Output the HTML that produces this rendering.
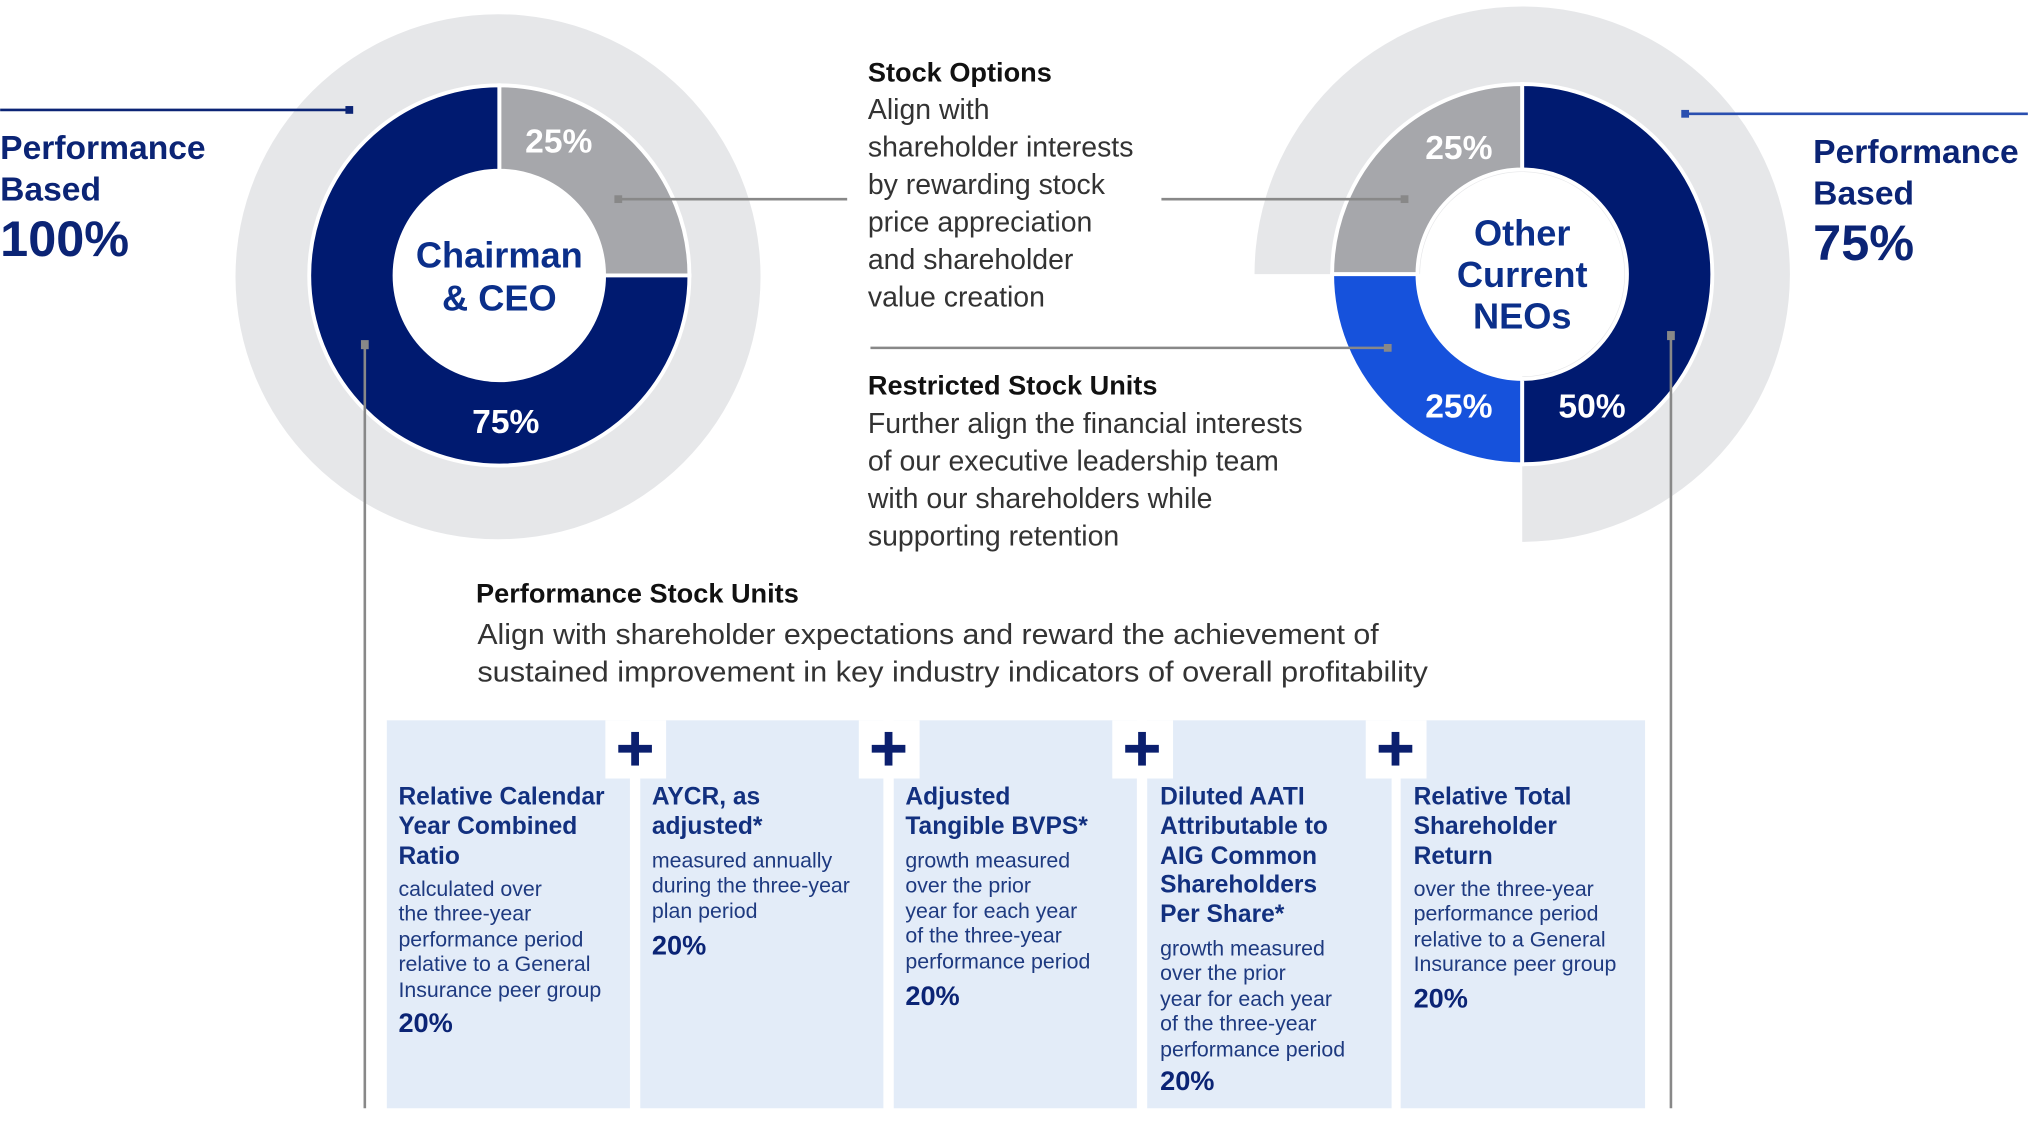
<!DOCTYPE html>
<html><head><meta charset="utf-8"><style>
html,body{margin:0;padding:0;background:#fff;}
svg{display:block;}
text{font-family:"Liberation Sans",sans-serif;}
.t{font-weight:bold;fill:#12307f;font-size:19px;}
.b{fill:#1e3a80;font-size:16.5px;}
.p{font-weight:bold;fill:#0b2475;font-size:21px;}
.d{fill:#333;font-size:22px;}
.h{font-weight:bold;fill:#111;font-size:21px;}
</style></head><body>
<svg width="2028" height="1138" viewBox="0 0 1568 880" xmlns="http://www.w3.org/2000/svg">
<circle cx="385" cy="214" r="203" fill="#e6e7e9"/>
<path d="M1177,212 L970,212 A207,207 0 1 1 1177,419 Z" fill="#e6e7e9"/>
<g stroke="#fff" stroke-width="3">
<path d="M386,66 A147,147 0 0 1 533,213 L467,213 A81,81 0 0 0 386,132 Z" fill="#a6a7ab"/>
<path d="M533,213 A147,147 0 1 1 386,66 L386,132 A81,81 0 1 0 467,213 Z" fill="#001a70"/>
<path d="M1030,212 A147,147 0 0 1 1177,65 L1177,131 A81,81 0 0 0 1096,212 Z" fill="#a6a7ab"/>
<path d="M1177,359 A147,147 0 0 1 1030,212 L1096,212 A81,81 0 0 0 1177,293 Z" fill="#1652dc"/>
<path d="M1177,65 A147,147 0 0 1 1177,359 L1177,293 A81,81 0 0 0 1177,131 Z" fill="#001a70"/>
</g>
<circle cx="386" cy="213" r="80" fill="#fff"/>
<circle cx="1177" cy="212" r="79" fill="#fff"/>
<g font-weight="bold" fill="#fff" font-size="26" text-anchor="middle">
<text x="432" y="118">25%</text>
<text x="391" y="335">75%</text>
<text x="1128" y="123">25%</text>
<text x="1128" y="323">25%</text>
<text x="1231" y="323">50%</text>
</g>
<g font-weight="bold" fill="#0b2f8a" font-size="28" text-anchor="middle">
<text x="386" y="207">Chairman</text>
<text x="386" y="240">&amp; CEO</text>
<text x="1177" y="190">Other</text>
<text x="1177" y="222">Current</text>
<text x="1177" y="254">NEOs</text>
</g>
<line x1="0" y1="85" x2="270" y2="85" stroke="#0b2475" stroke-width="2"/>
<rect x="267" y="82" width="6" height="6" fill="#0b2475"/>
<line x1="1303" y1="88" x2="1568" y2="88" stroke="#2a4fb0" stroke-width="2"/>
<rect x="1300" y="85" width="6" height="6" fill="#2a4fb0"/>
<g stroke="#888" stroke-width="2">
<line x1="478" y1="154" x2="655" y2="154"/>
<line x1="898" y1="154" x2="1086" y2="154"/>
<line x1="673" y1="269" x2="1073" y2="269"/>
<line x1="282" y1="266" x2="282" y2="857"/>
<line x1="1292" y1="259" x2="1292" y2="857"/>
</g>
<g fill="#888">
<rect x="475" y="151" width="6" height="6"/>
<rect x="1083" y="151" width="6" height="6"/>
<rect x="1070" y="266" width="6" height="6"/>
<rect x="279" y="263" width="6" height="7"/>
<rect x="1289" y="256" width="6" height="7"/>
</g>
<g font-weight="bold" fill="#0b2475">
<text x="0" y="123" font-size="26">Performance</text>
<text x="0" y="155" font-size="26">Based</text>
<text x="0" y="198" font-size="39">100%</text>
<text x="1402" y="126" font-size="26">Performance</text>
<text x="1402" y="158" font-size="26">Based</text>
<text x="1402" y="201" font-size="39">75%</text>
</g>
<text class="h" x="671" y="63">Stock Options</text>
<text class="d" x="671" y="92">Align with</text>
<text class="d" x="671" y="121">shareholder interests</text>
<text class="d" x="671" y="150">by rewarding stock</text>
<text class="d" x="671" y="179">price appreciation</text>
<text class="d" x="671" y="208">and shareholder</text>
<text class="d" x="671" y="237">value creation</text>
<text class="h" x="671" y="305">Restricted Stock Units</text>
<text class="d" x="671" y="335">Further align the financial interests</text>
<text class="d" x="671" y="364">of our executive leadership team</text>
<text class="d" x="671" y="393">with our shareholders while</text>
<text class="d" x="671" y="422">supporting retention</text>
<text class="h" x="368" y="466">Performance Stock Units</text>
<text class="d" x="369" y="498" textLength="697" lengthAdjust="spacingAndGlyphs">Align with shareholder expectations and reward the achievement of</text>
<text class="d" x="369" y="527" textLength="735" lengthAdjust="spacingAndGlyphs">sustained improvement in key industry indicators of overall profitability</text>
<g fill="#e3ecf8">
<rect x="299" y="557" width="188" height="300"/>
<rect x="495" y="557" width="188" height="300"/>
<rect x="691" y="557" width="188" height="300"/>
<rect x="887" y="557" width="189" height="300"/>
<rect x="1083" y="557" width="189" height="300"/>
</g>
<g fill="#fff">
<rect x="468" y="557" width="47" height="45"/>
<rect x="664" y="557" width="47" height="45"/>
<rect x="860" y="557" width="47" height="45"/>
<rect x="1056" y="557" width="47" height="45"/>
</g>
<g fill="#0b1f6e">
<rect x="478" y="576" width="26" height="6"/><rect x="488" y="566" width="6" height="26"/>
<rect x="674" y="576" width="26" height="6"/><rect x="684" y="566" width="6" height="26"/>
<rect x="870" y="576" width="26" height="6"/><rect x="880" y="566" width="6" height="26"/>
<rect x="1066" y="576" width="26" height="6"/><rect x="1076" y="566" width="6" height="26"/>
</g>
<text class="t" x="308" y="622">Relative Calendar</text>
<text class="t" x="308" y="645">Year Combined</text>
<text class="t" x="308" y="668">Ratio</text>
<text class="b" x="308" y="693">calculated over</text>
<text class="b" x="308" y="712">the three-year</text>
<text class="b" x="308" y="732">performance period</text>
<text class="b" x="308" y="751">relative to a General</text>
<text class="b" x="308" y="771">Insurance peer group</text>
<text class="p" x="308" y="798">20%</text>
<text class="t" x="504" y="622">AYCR, as</text>
<text class="t" x="504" y="645">adjusted*</text>
<text class="b" x="504" y="671">measured annually</text>
<text class="b" x="504" y="690">during the three-year</text>
<text class="b" x="504" y="710">plan period</text>
<text class="p" x="504" y="738">20%</text>
<text class="t" x="700" y="622">Adjusted</text>
<text class="t" x="700" y="645">Tangible BVPS*</text>
<text class="b" x="700" y="671">growth measured</text>
<text class="b" x="700" y="690">over the prior</text>
<text class="b" x="700" y="710">year for each year</text>
<text class="b" x="700" y="729">of the three-year</text>
<text class="b" x="700" y="749">performance period</text>
<text class="p" x="700" y="777">20%</text>
<text class="t" x="897" y="622">Diluted AATI</text>
<text class="t" x="897" y="645">Attributable to</text>
<text class="t" x="897" y="668">AIG Common</text>
<text class="t" x="897" y="690">Shareholders</text>
<text class="t" x="897" y="713">Per Share*</text>
<text class="b" x="897" y="739">growth measured</text>
<text class="b" x="897" y="758">over the prior</text>
<text class="b" x="897" y="778">year for each year</text>
<text class="b" x="897" y="797">of the three-year</text>
<text class="b" x="897" y="817">performance period</text>
<text class="p" x="897" y="843">20%</text>
<text class="t" x="1093" y="622">Relative Total</text>
<text class="t" x="1093" y="645">Shareholder</text>
<text class="t" x="1093" y="668">Return</text>
<text class="b" x="1093" y="693">over the three-year</text>
<text class="b" x="1093" y="712">performance period</text>
<text class="b" x="1093" y="732">relative to a General</text>
<text class="b" x="1093" y="751">Insurance peer group</text>
<text class="p" x="1093" y="779">20%</text>
</svg>
</body></html>
